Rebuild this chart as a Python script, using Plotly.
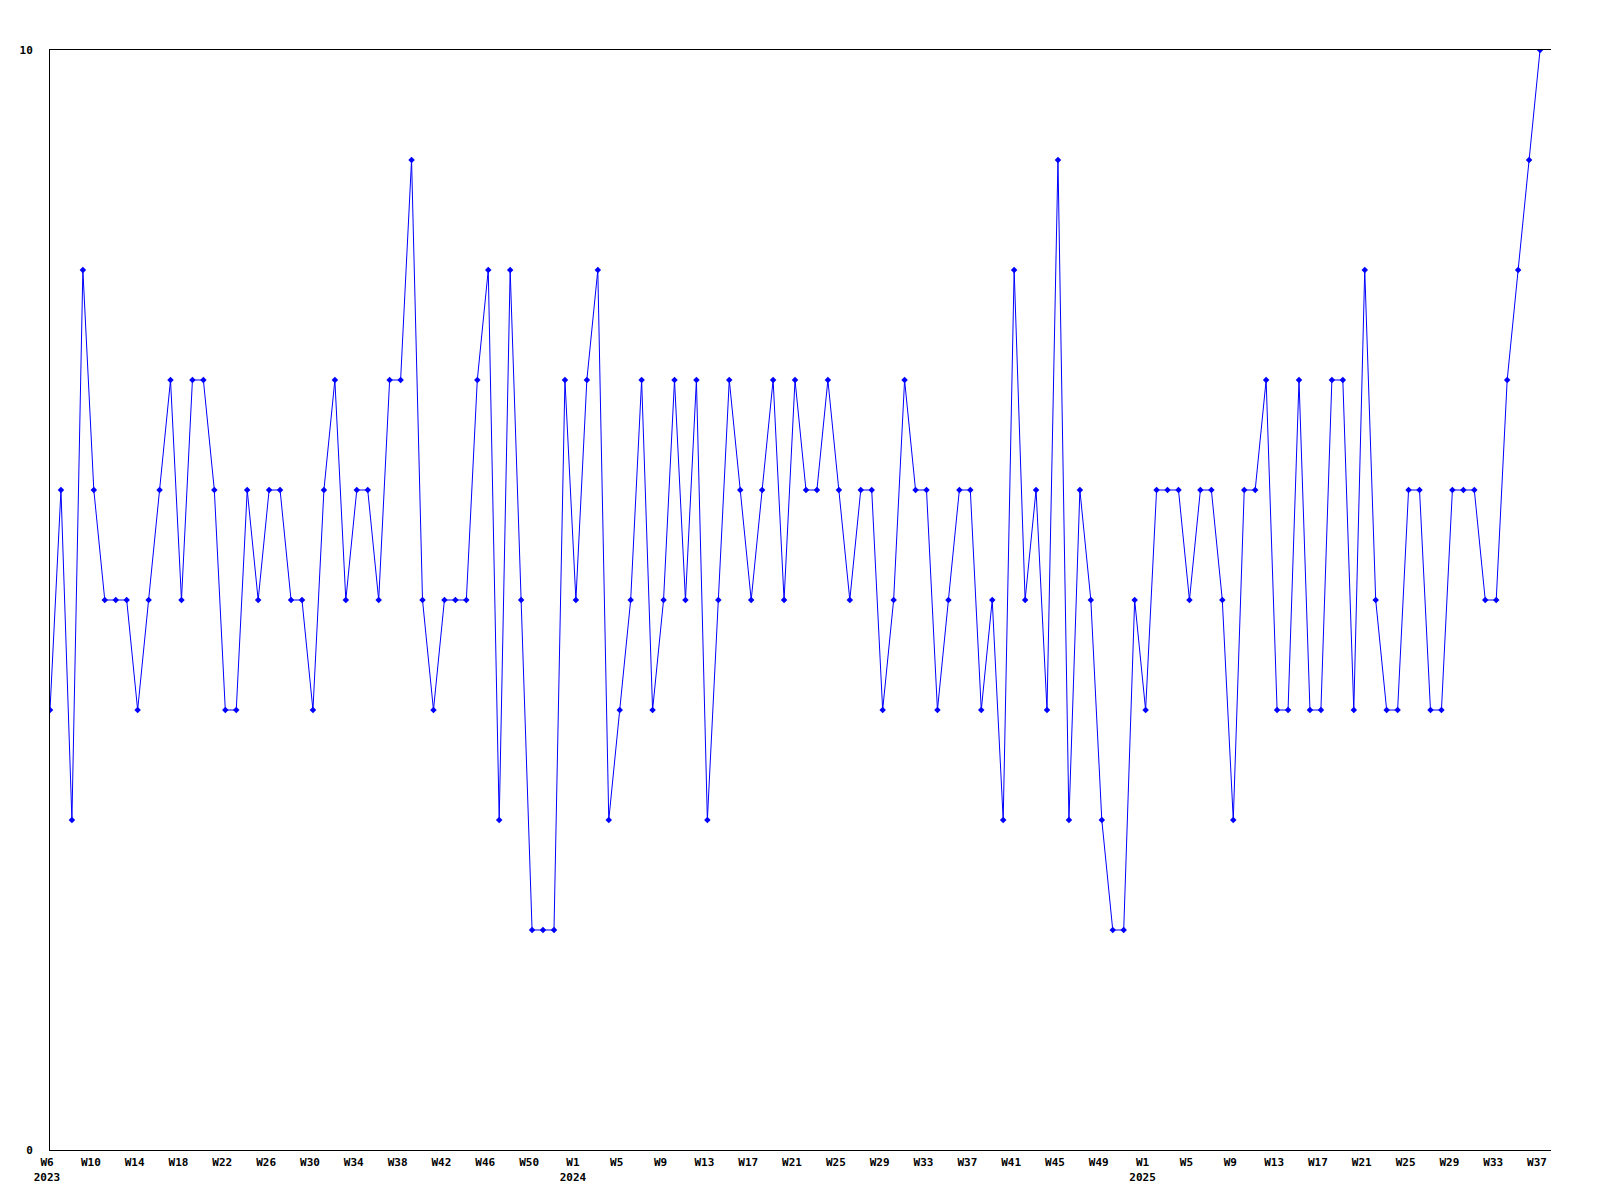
import plotly.graph_objects as go

# weekly buckets shown on the chart (week numbers per year, Sunday-start weeks)
weeks_2023 = list(range(6, 54))
weeks_2024 = list(range(1, 53))
weeks_2025 = list(range(1, 38))

values_2023 = [4, 6, 3, 8, 6, 5, 5, 5, 4, 5, 6, 7, 5, 7, 7, 6, 4, 4, 6, 5,
               6, 6, 5, 5, 4, 6, 7, 5, 6, 6, 5, 7, 7, 9, 5, 4, 5, 5, 5, 7,
               8, 3, 8, 5, 2, 2, 2, 7]
values_2024 = [5, 7, 8, 3, 4, 5, 7, 4, 5, 7, 5, 7, 3, 5, 7, 6, 5, 6, 7,
               5, 7, 6, 6, 7, 6, 5, 6, 6, 4, 5, 7, 6, 6, 4, 5, 6, 6, 4, 5,
               3, 8, 5, 6, 4, 9, 3, 6, 5, 3, 2, 2, 5]
values_2025 = [4, 6, 6, 6, 5, 6, 6, 5, 3, 6, 6, 7, 4, 4, 7, 4, 4, 7, 7, 4,
               8, 5, 4, 4, 6, 6, 4, 4, 6, 6, 6, 5, 5, 7, 8, 9, 10]

# weeks that carry a label on the x axis
ticks_2023 = [6, 10, 14, 18, 22, 26, 30, 34, 38, 42, 46, 50]
ticks_2024 = [1, 5, 9, 13, 17, 21, 25, 29, 33, 37, 41, 45, 49]
ticks_2025 = [1, 5, 9, 13, 17, 21, 25, 29, 33, 37]

keys, y = [], []
for yr, wks, vals in [(2023, weeks_2023, values_2023),
                      (2024, weeks_2024, values_2024),
                      (2025, weeks_2025, values_2025)]:
    keys += [(yr, w) for w in wks]
    y += vals
x = list(range(len(keys)))

tickvals, ticktext = [], []
for yr, tks in [(2023, ticks_2023), (2024, ticks_2024), (2025, ticks_2025)]:
    for j, w in enumerate(tks):
        tickvals.append(keys.index((yr, w)))
        ticktext.append(f"W{w}<br>{yr}" if j == 0 else f"W{w}")

font = dict(family="DejaVu Sans Mono", size=11, color="black", weight="bold")

fig = go.Figure()
fig.add_trace(go.Scatter(
    x=x, y=y, mode="lines+markers",
    line=dict(color="#0000ff", width=1),
    marker=dict(symbol="diamond", size=5, color="#0000ff"),
    hoverinfo="x+y",
))

# page body adds an 8px margin, so the figure is a bit smaller than the window
fig.update_layout(
    width=1584, height=1184,
    margin=dict(l=42, r=41, t=42, b=42),
    paper_bgcolor="white", plot_bgcolor="white",
    showlegend=False,
    xaxis=dict(
        range=[0, len(keys)], showgrid=False, zeroline=False,
        showline=True, linecolor="black", linewidth=1, mirror=True,
        tickmode="array", tickvals=tickvals, ticktext=ticktext,
        tickfont=font, ticks="", ticklabelstandoff=2, ticklabelshift=-3,
        automargin=False,
    ),
    yaxis=dict(
        range=[0, 10], showgrid=False, zeroline=False,
        showline=True, linecolor="black", linewidth=1,
        tickmode="array", tickvals=[0, 10], ticktext=["0", "10"],
        tickfont=font, ticks="", ticklabelstandoff=14, automargin=False,
    ),
)

fig.write_html("out.html")
